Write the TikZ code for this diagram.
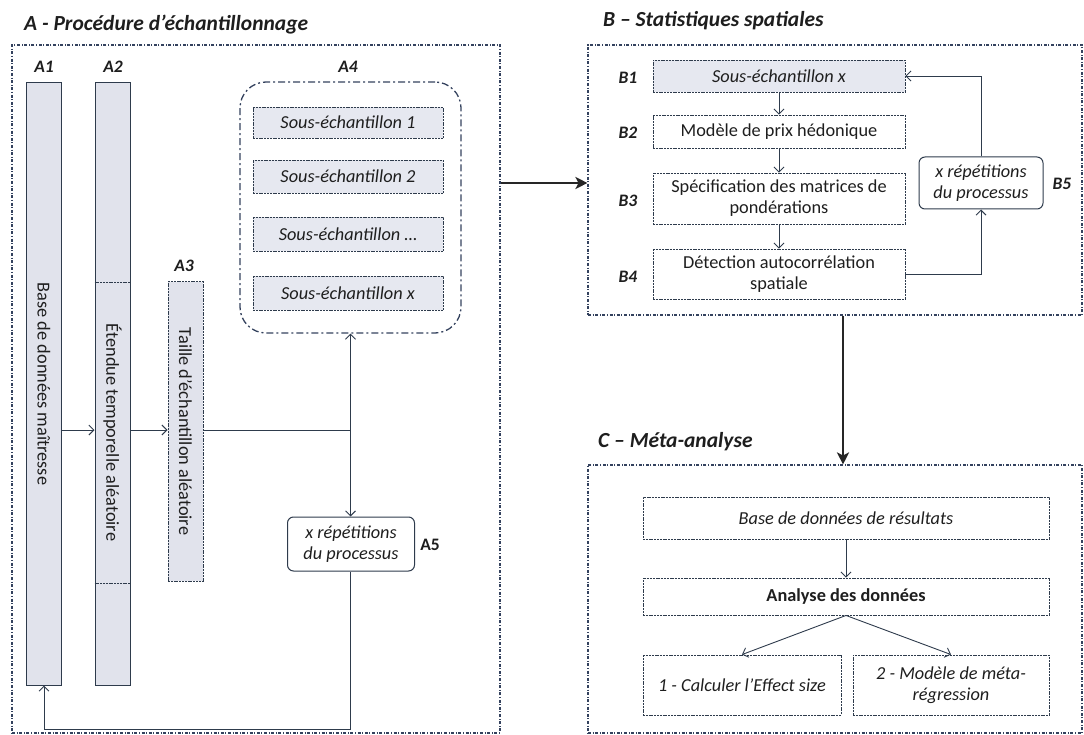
\documentclass[tikz,border=0pt]{standalone}
\usepackage{fontspec}
\setmainfont{Carlito}
\usetikzlibrary{arrows.meta}

\definecolor{ink}{HTML}{2E3B4C}
\definecolor{framecol}{HTML}{34425E}
\definecolor{barfill}{HTML}{E1E3EC}
\definecolor{subfill}{HTML}{E6E8F0}
\definecolor{txt}{HTML}{1E1E1E}

\begin{document}
\begin{tikzpicture}[x=1pt,y=-1pt,
  font=\fontsize{18.3}{21}\selectfont, text=txt,
  frame/.style={draw=framecol, line width=1.1pt,
    dash pattern=on 3pt off 1.6pt on 1pt off 1.6pt, inner sep=0pt},
  head/.style={anchor=west, inner sep=0pt,
    font=\fontsize{21.5}{24}\selectfont\bfseries\itshape},
  tag/.style={inner sep=0pt, font=\fontsize{17.5}{20}\selectfont\bfseries\itshape},
  bar/.style={draw=ink, fill=barfill, line width=1pt, inner sep=0pt},
  bartext/.style={rotate=-90, inner sep=0pt},
  box/.style={draw=ink, line width=0.9pt, dash pattern=on 2pt off 0.8pt,
    inner sep=2pt, align=center},
  subbox/.style={box, fill=subfill, minimum width=190, font=\fontsize{18.3}{21}\selectfont\itshape},
  roundbox/.style={draw=ink, line width=1pt, rounded corners=6pt, align=center,
    inner sep=0pt, font=\fontsize{18.3}{21}\selectfont\itshape},
  arr/.style={draw=ink, line width=0.9pt, -{Straight Barb[length=5pt,width=10pt]}},
  link/.style={draw=ink, line width=0.9pt},
  bigarr/.style={draw=black!85, line width=2.2pt, -{Stealth[length=12pt,width=12pt,inset=3pt]}}
]
\useasboundingbox (0,0) rectangle (1084,735);

% ---------- section frames and titles ----------
\node[frame, minimum width=488, minimum height=688] (FA) at (256,389) {};
\node[frame, minimum width=494, minimum height=270] (FB) at (835,180) {};
\node[frame, minimum width=494, minimum height=268] (FC) at (835,599) {};

\node[head] (hA) at (24,25) {A - Procédure d’échantillonnage};
\node[head] (hB) at (603,21) {B – Statistiques spatiales};
\node[head] (hC) at (598,442) {C – Méta-analyse};

% ---------- A : sampling procedure ----------
\node[tag] (tA1) at (44,67) {A1};
\node[tag] (tA2) at (113,67) {A2};
\node[tag] (tA3) at (184,266) {A3};
\node[tag] (tA4) at (348,67) {A4};
\node[inner sep=0pt, font=\fontsize{17.5}{20}\selectfont\bfseries] (tA5) at (430,545) {A5};

\node[bar, minimum width=35, minimum height=602] (A1) at (44,384) {};
\node[bartext] (A1t) at (A1) {Base de données maîtresse};
\node[bar, minimum width=35, minimum height=602] (A2) at (112.5,384) {};
\draw[ink, line width=0.8pt, dash pattern=on 2pt off 0.8pt]
  (A2.west |- 0,282) -- (A2.east |- 0,282)
  (A2.west |- 0,583) -- (A2.east |- 0,583);
\node[bartext] (A2t) at (112.5,432.5) {Étendue temporelle aléatoire};
\node[bar, dash pattern=on 2pt off 0.8pt, minimum width=35, minimum height=299] (A3) at (185.5,431.5) {};
\node[bartext] (A3t) at (A3) {Taille d’échantillon aléatoire};

\node[draw=framecol, line width=1.3pt, dash pattern=on 7pt off 3pt on 2pt off 3pt,
  rounded corners=26pt, minimum width=221, minimum height=251, inner sep=0pt] (A4) at (350.5,207.5) {};
\node[subbox, minimum height=31] (S1) at (348,122.5) {Sous-échantillon 1};
\node[subbox, minimum height=33] (S2) at (348,176.5) {Sous-échantillon 2};
\node[subbox, minimum height=34] (S3) at (348,234) {Sous-échantillon …};
\node[subbox, minimum height=34] (S4) at (348,293) {Sous-échantillon x};

\node[roundbox, minimum width=127, minimum height=54] (A5) at (351,544)
  {x répétitions\\du processus};

\coordinate (lvl) at (0,430);
\coordinate (J) at (350.5,430);
\draw[arr] (A1.east |- lvl) -- (A2.west |- lvl);
\draw[arr] (A2.east |- lvl) -- (A3.west |- lvl);
\draw[link] (A3.east |- lvl) -- (J);
\draw[arr] (J) -- (A4.south);
\draw[arr] (J) -- (A5.north -| J);
\draw[arr] (A5.south -| J) -- (J |- 0,729) -| (A1.south);

% ---------- B : spatial statistics ----------
\node[tag] (tB1) at (628,78) {B1};
\node[tag] (tB2) at (628,133) {B2};
\node[tag] (tB3) at (628,201) {B3};
\node[tag] (tB4) at (628,277) {B4};
\node[tag] (tB5) at (1062,184) {B5};

\node[box, fill=subfill, minimum width=252, minimum height=32,
  font=\fontsize{18.3}{21}\selectfont\itshape] (B1) at (779,76) {Sous-échantillon x};
\node[box, minimum width=252, minimum height=33] (B2) at (779,131.5) {Modèle de prix hédonique};
\node[box, minimum width=252, minimum height=51] (B3) at (779,198.5)
  {Spécification des matrices de\\pondérations};
\node[box, minimum width=252, minimum height=50] (B4) at (779,274)
  {Détection autocorrélation\\spatiale};
\node[roundbox, minimum width=124, minimum height=52] (B5) at (981,183)
  {x répétitions\\du processus};

\draw[arr] (B1) -- (B2);
\draw[arr] (B2) -- (B3);
\draw[arr] (B3) -- (B4);
\draw[arr] (B4.east) -| (B5.south);
\draw[arr] (B5.north) |- (B1.east);

% ---------- C : meta-analysis ----------
\node[box, minimum width=406, minimum height=42,
  font=\fontsize{18.3}{21}\selectfont\itshape] (C1) at (846,518) {Base de données de résultats};
\node[box, minimum width=406, minimum height=37,
  font=\fontsize{18.3}{21}\selectfont\bfseries] (C2) at (846,596.5) {Analyse des données};
\node[box, minimum width=198, minimum height=60,
  font=\fontsize{18.3}{21}\selectfont\itshape] (C3) at (742,685) {1 - Calculer l’Effect size};
\node[box, minimum width=196, minimum height=60,
  font=\fontsize{18.3}{21}\selectfont\itshape] (C4) at (951,685) {2 - Modèle de méta-\\régression};

\draw[arr] (C1) -- (C2);
\draw[arr] (C2.south) -- (C3.north);
\draw[arr] (C2.south) -- (C4.north);

% ---------- links between sections ----------
\coordinate (ab) at (0,183);
\coordinate (bc) at (843,0);
\draw[bigarr] (FA.east |- ab) -- (FB.west |- ab);
\draw[bigarr] (FB.south -| bc) -- (FC.north -| bc);
\end{tikzpicture}
\end{document}
